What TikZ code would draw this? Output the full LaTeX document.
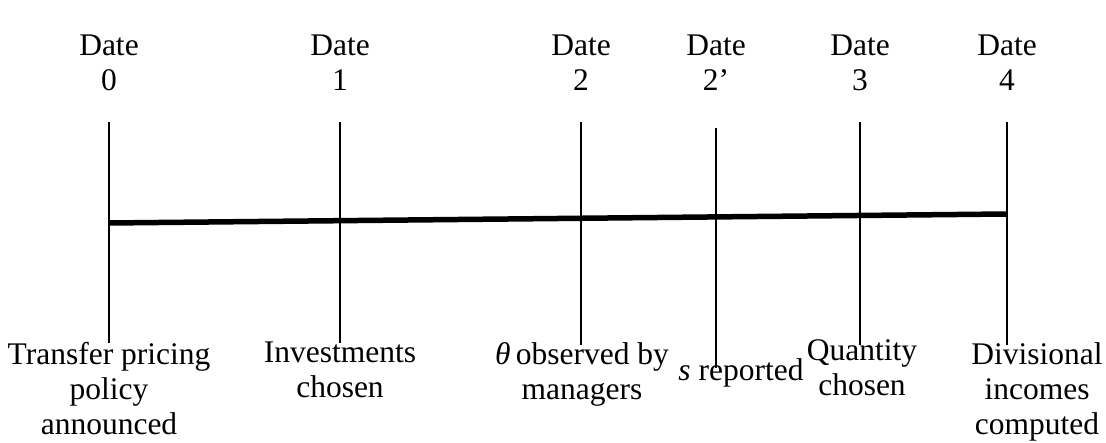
\documentclass[tikz,border=0pt]{standalone}
\usepackage{fontspec}
\setmainfont{Liberation Serif}
\begin{document}
\begin{tikzpicture}[x=1pt,y=-1pt,
  lbl/.style={align=center,font=\fontsize{31.5}{35}\selectfont,inner sep=0pt},
  tick/.style={line width=2.8pt},
  axis/.style={line width=5.5pt}]
\useasboundingbox (0,0) rectangle (1106,443);
% tick end points
\foreach \n/\x/\t/\b in {0/109/122/343,1/340/122/343,2/581/122/345,2p/716/128/368,3/860/122/345,4/1007/122/345}{
  \coordinate (t\n) at (\x,\t);
  \coordinate (b\n) at (\x,\b);
}
\coordinate (h0) at (109,223);
\coordinate (h4) at (1007,214);
% date labels
\node[lbl] (d0) at (109,63) {Date\\0};
\node[lbl] (d1) at (340,63) {Date\\1};
\node[lbl] (d2) at (581,63) {Date\\2};
\node[lbl] (d2p) at (716,63) {Date\\2’};
\node[lbl] (d3) at (860,63) {Date\\3};
\node[lbl] (d4) at (1007,63) {Date\\4};
% lines
\draw[axis] (h0) -- (h4);
\foreach \n in {0,1,2,2p,3,4}{\draw[tick] (t\n) -- (b\n);}
% event labels
\node[lbl,anchor=north] (e0) at (109,342) {Transfer pricing\\policy\\announced};
\node[lbl,anchor=north] (e1) at (340,342) {Investments\\chosen};
\node[lbl,anchor=north] (e2) at (582,342) {\textit{θ}\,observed by\\managers};
\node[lbl,anchor=north] (e2p) at (741,358) {\textit{s} reported};
\node[lbl,anchor=north] (e3) at (862,339) {Quantity\\chosen};
\node[lbl,anchor=north] (e4) at (1037,342) {Divisional\\incomes\\computed};
\end{tikzpicture}
\end{document}
